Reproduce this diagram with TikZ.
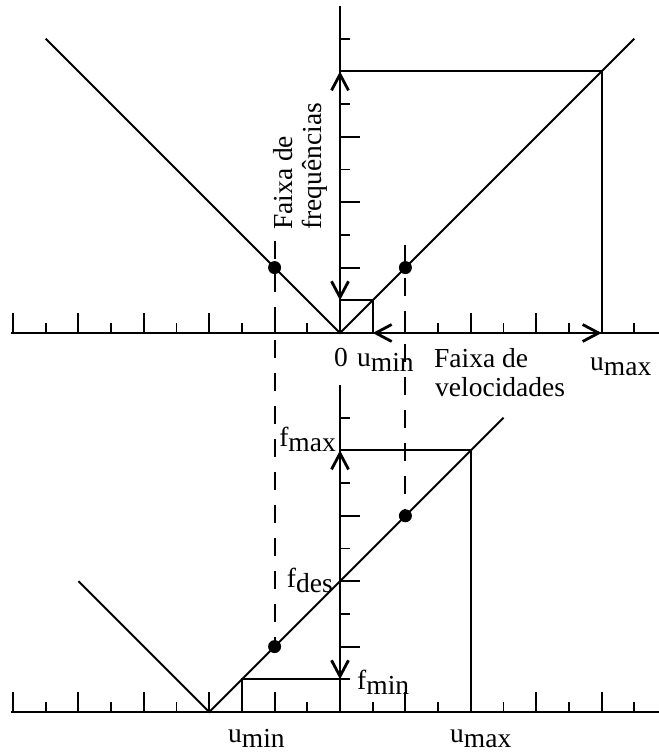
\documentclass[tikz,border=0pt]{standalone}
\usepackage{fontspec}
\setmainfont{Liberation Serif}
\usetikzlibrary{arrows.meta}
\newcommand{\sbs}[2]{#1\raisebox{-4.5pt}{#2}}
\begin{document}
\begin{tikzpicture}[x=1pt,y=1pt,
  every node/.style={font=\fontsize{27.5}{30}\selectfont, inner sep=0pt},
  ln/.style={line width=2pt},
  ax/.style={line width=2.3pt},
  tk/.style={line width=1.9pt},
  dsh/.style={line width=2pt, dash pattern=on 18pt off 15pt},
  barb/.tip={Straight Barb[length=16pt,width=17pt,line width=2.8pt]},
  dbl/.style={line width=2.2pt, barb-barb},
  dotm/.style={circle, fill=black, minimum size=13pt, inner sep=0pt}]
\useasboundingbox (0,0) rectangle (659,753);
\fill[white] (0,0) rectangle (659,753);

% ---------- top diagram ----------
\begin{scope}[shift={(340,420)}, x=32.7pt, y=32.7pt]
  \coordinate (tO) at (0,0);
  \coordinate (tXl) at (-10.05,0);
  \coordinate (tXr) at (9.8,0);
  \coordinate (tYt) at (0,10);
  \draw[ax] (tXl) -- (tXr);
  \draw[ax] (tO) -- (tYt);
  \foreach \k in {-10,-8,-6,-4,-2,2,4,6,8} \draw[tk] (\k,0) -- (\k,0.6);
  \foreach \k in {-9,-7,...,9} \draw[tk] (\k,0) -- (\k,0.3);
  \foreach \k in {2,4,6,8} \draw[tk] (0,\k) -- (0.6,\k);
  \foreach \k in {1,3,...,9} \draw[tk] (0,\k) -- (0.3,\k);
  \coordinate (tL) at (-9,9);
  \coordinate (tR) at (9,9);
  \draw[ln] (tL) -- (tO) -- (tR);
  \coordinate (tA) at (8,8);
  \coordinate (tAy) at (0,8);
  \coordinate (tAx) at (8,0);
  \draw[ln] (tAy) -- (tA) -- (tAx);
  \coordinate (tB) at (1,1);
  \coordinate (tBy) at (0,1);
  \coordinate (tBx) at (1,0);
  \draw[ln] (tBy) -- (tB) -- (tBx);
  \draw[dbl] (tBy) -- (tAy);
  \draw[dbl] (tBx) -- (tAx);
  \node[dotm] (tD1) at (-2,2) {};
  \node[dotm] (tD2) at (2,2) {};
  \coordinate (dsL) at (-2,2.8);
  \coordinate (dsR) at (2,2.7);
\end{scope}

% ---------- bottom diagram ----------
\begin{scope}[shift={(340,41)}, x=32.7pt, y=32.7pt]
  \coordinate (bO) at (0,0);
  \coordinate (bXl) at (-10.05,0);
  \coordinate (bXr) at (9.8,0);
  \coordinate (bYt) at (0,10);
  \draw[ax] (bXl) -- (bXr);
  \draw[ax] (bO) -- (bYt);
  \foreach \k in {-10,-8,-6,-4,-2,2,4,6,8} \draw[tk] (\k,0) -- (\k,0.6);
  \foreach \k in {-9,-7,...,9} \draw[tk] (\k,0) -- (\k,0.3);
  \foreach \k in {2,4,6,8} \draw[tk] (0,\k) -- (0.6,\k);
  \foreach \k in {1,3,...,9} \draw[tk] (0,\k) -- (0.3,\k);
  \coordinate (bV) at (-4,0);
  \coordinate (bL) at (-8,4);
  \coordinate (bR) at (5,9);
  \draw[ln] (bL) -- (bV) -- (bR);
  \coordinate (bA) at (4,8);
  \coordinate (bAy) at (0,8);
  \coordinate (bAx) at (4,0);
  \draw[ln] (bAy) -- (bA) -- (bAx);
  \coordinate (bB) at (-3,1);
  \coordinate (bBy) at (0,1);
  \coordinate (bBx) at (-3,0);
  \draw[ln] (bBy) -- (bB) -- (bBx);
  \draw[dbl] (bBy) -- (bAy);
  \node[dotm] (bD1) at (-2,2) {};
  \node[dotm] (bD2) at (2,6) {};
\end{scope}

% dashed links
\draw[dsh] (dsL) -- (bD1.center);
\draw[dsh] (dsR) -- (bD2.center);

% ---------- labels ----------
\node[anchor=base] (l0) at (341,386) {0};
\node[anchor=base west] (tumin) at (357,386) {\sbs{u}{min}};
\node[anchor=base west] (fv1) at (434,385) {Faixa de};
\node[anchor=base west] (fv2) at (435,356) {velocidades};
\node[anchor=base west] (tumax) at (590,382) {\sbs{u}{max}};
\node[rotate=90, anchor=base west] (ff1) at (292,523) {Faixa de};
\node[rotate=90, anchor=base west] (ff2) at (321,523) {frequências};
\node[anchor=base east] (fmax) at (336,306) {\sbs{f}{max}};
\node[anchor=base east] (fdes) at (333,165) {\sbs{f}{des}};
\node[anchor=base west] (fmin) at (357,63) {\sbs{f}{min}};
\node[anchor=base west] (bumin) at (228,10) {\sbs{u}{min}};
\node[anchor=base west] (bumax) at (450,10) {\sbs{u}{max}};
\end{tikzpicture}
\end{document}
